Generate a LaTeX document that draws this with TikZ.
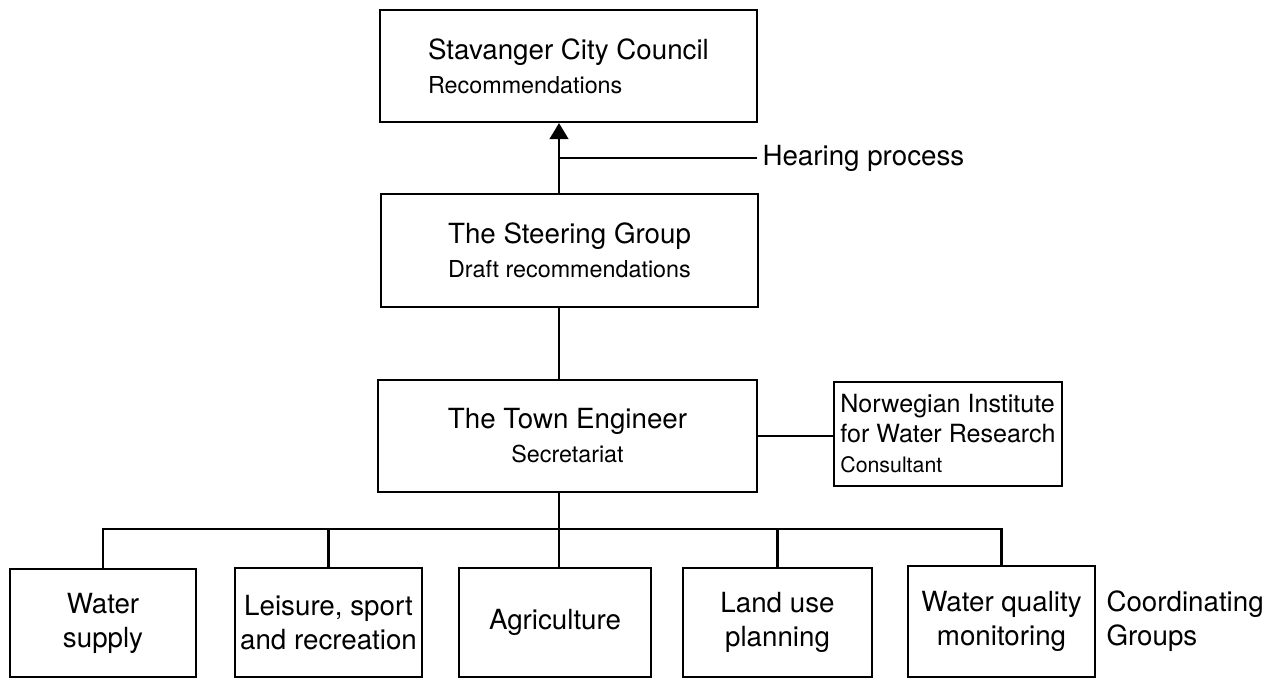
\documentclass[tikz,border=0pt]{standalone}
\usepackage{fontspec}
\setmainfont{TeX Gyre Heros}
\usetikzlibrary{arrows.meta,calc}

\newcommand{\orgsub}[1]{{\fontsize{17.5}{21}\selectfont #1}}

\tikzset{every picture/.style={line width=0.75pt}}
\tikzset{
  orgbox/.style 2 args={draw, line width=1.6pt, rectangle, inner sep=0pt,
    minimum width=#1*0.75pt, minimum height=#2*0.75pt,
    font=\fontsize{20.8}{25.5}\selectfont},
  orgline/.style={line width=1.6pt},
  plaintxt/.style={inner sep=0pt, font=\fontsize{20.8}{25.5}\selectfont}
}

\begin{document}
\begin{tikzpicture}[x=0.75pt,y=0.75pt,yscale=-1,xscale=1]
\useasboundingbox (0,0) rectangle (1283,679);

%Shape: Rectangle [council]
\node [orgbox={377}{112}, align=left] (council) at (568.5,66) {Stavanger City Council\\\orgsub{Recommendations}};
%Shape: Rectangle [steering group]
\node [orgbox={377}{113}, align=left] (steer) at (569.5,250.5) {The Steering Group\\\orgsub{Draft recommendations}};
%Shape: Rectangle [town engineer]
\node [orgbox={379}{112}, align=center] (town) at (567.5,436) {The Town Engineer\\\orgsub{Secretariat}};
%Shape: Rectangle [consultant]
\node [orgbox={228}{104}, align=left, font=\fontsize{18.8}{22.5}\selectfont] (niva) at (948,434) {Norwegian Institute\\for Water Research\\{\fontsize{16}{19}\selectfont Consultant}};

%Shape: Rectangle [coordinating groups]
\node [orgbox={186}{108}, align=center] (water) at (103,623) {Water\\supply};
\node [orgbox={187}{109}, align=center] (leisure) at (328.5,622.5) {Leisure, sport\\and recreation};
\node [orgbox={192}{109}, align=center] (agri) at (555,622.5) {Agriculture};
\node [orgbox={189}{109}, align=center] (landuse) at (777.5,622.5) {Land use\\planning};
\node [orgbox={187}{111}, align=center] (wq) at (1001.5,621.5) {Water quality\\monitoring};

% Text Node
\node [plaintxt, anchor=west] (hearing) at (762,158) {Hearing process};
% Text Node
\node [plaintxt, anchor=west, align=left] (coord) at (1106,621) {Coordinating\\Groups};

\coordinate (spine) at (559,0);
\coordinate (hp) at (559,158);
\coordinate (bus) at (559,529);

%Straight Lines
\draw [orgline, -{Triangle[width=14pt,length=12pt]}] (steer.north -| spine) -- (council.south -| spine);
\draw [orgline] (hp) -- ([xshift=-4]hearing.west);
\draw [orgline] (steer.south -| spine) -- (town.north -| spine);
\draw [orgline] (town.east) -- (town.east -| niva.west);
\draw [orgline] (town.south -| spine) -- (agri.north -| spine);
\draw [orgline] (water.north) |- (bus) -| (wq.north);
\draw [orgline] (leisure.north) -- (leisure.north |- bus);
\draw [orgline] (landuse.north) -- (landuse.north |- bus);

\end{tikzpicture}
\end{document}
